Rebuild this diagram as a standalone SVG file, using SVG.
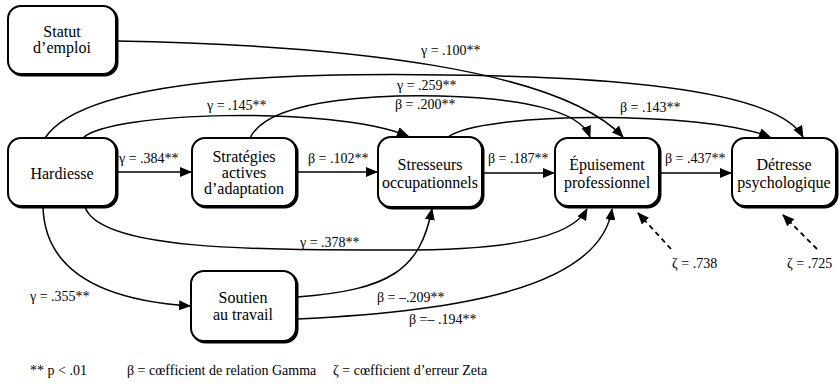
<svg xmlns="http://www.w3.org/2000/svg" width="840" height="386" viewBox="0 0 840 386">
<style>
.box{fill:#fff;stroke:#000;stroke-width:2}
.sh{fill:#000;stroke:#000;stroke-width:2}
.nt{font-family:"Liberation Serif","Times New Roman",serif;font-size:16px;text-anchor:middle;fill:#000}
.lb{font-family:"Liberation Serif","Times New Roman",serif;font-size:14px;fill:#000}
.c{fill:none;stroke:#000;stroke-width:1.5}
.d{fill:none;stroke:#000;stroke-width:1.8;stroke-dasharray:5,4}
</style>
<defs>
<marker id="ah" markerUnits="userSpaceOnUse" markerWidth="12" markerHeight="10" refX="11" refY="5" orient="auto">
<path d="M0,0 L12,5 L0,10 Z" fill="#000"/>
</marker>
</defs>
<rect width="840" height="386" fill="#fff"/>
<g id="connectors">
<path class="c" d="M116,41 C350,45 560,70 623,137" marker-end="url(#ah)"/>
<path class="c" d="M45,138 C90,70 350,72 500,76 C650,80 780,95 803,137" marker-end="url(#ah)"/>
<path class="c" d="M250,138 C270,95 400,95 440,96 C520,98 580,110 590,137" marker-end="url(#ah)"/>
<path class="c" d="M83,138 C110,112 330,105 408,136" marker-end="url(#ah)"/>
<path class="c" d="M448,137 C480,112 700,110 770,137" marker-end="url(#ah)"/>
<path class="c" d="M116,172 L191,172" marker-end="url(#ah)"/>
<path class="c" d="M296,172 L377,172" marker-end="url(#ah)"/>
<path class="c" d="M482,173 L554,173" marker-end="url(#ah)"/>
<path class="c" d="M659,173 L731,173" marker-end="url(#ah)"/>
<path class="c" d="M85,207 C100,250 250,250 400,250 C500,250 570,240 587,209" marker-end="url(#ah)"/>
<path class="c" d="M43,207 C45,270 100,300 190,306" marker-end="url(#ah)"/>
<path class="c" d="M297,297 C390,290 420,270 432,209" marker-end="url(#ah)"/>
<path class="c" d="M297,319 C450,312 600,290 612,209" marker-end="url(#ah)"/>
<path class="d" d="M671,249 L638,213" marker-end="url(#ah)"/>
<path class="d" d="M817,249 L783,215" marker-end="url(#ah)"/>
</g>
<g id="labels">
<text class="lb" x="421" y="55">γ = .100**</text>
<text class="lb" x="397" y="90">γ = .259**</text>
<text class="lb" x="395" y="109">β = .200**</text>
<text class="lb" x="207" y="110">γ = .145**</text>
<text class="lb" x="620" y="112">β = .143**</text>
<text class="lb" x="119" y="163">γ = .384**</text>
<text class="lb" x="308" y="163">β = .102**</text>
<text class="lb" x="488" y="163">β = .187**</text>
<text class="lb" x="665" y="163">β = .437**</text>
<text class="lb" x="300" y="247">γ = .378**</text>
<text class="lb" x="30" y="301">γ = .355**</text>
<text class="lb" x="377" y="302">β = –.209**</text>
<text class="lb" x="409" y="324">β =– .194**</text>
<text class="lb" x="672" y="268">ζ = .738</text>
<text class="lb" x="787" y="268">ζ = .725</text>
<text class="lb" x="30" y="375">** p &lt; .01</text>
<text class="lb" x="127" y="375">β = cœfficient de relation Gamma</text>
<text class="lb" x="333" y="375">ζ = cœfficient d’erreur Zeta</text>
</g>
<g id="statut">
<rect class="sh" x="9.5" y="7.5" width="108" height="68" rx="13"/>
<rect class="box" x="8" y="6" width="108" height="68" rx="13"/>
<text class="nt" x="62" y="37">Statut</text>
<text class="nt" x="62" y="53">d’emploi</text>
</g>
<g id="hardiesse">
<rect class="sh" x="9.5" y="139.5" width="108" height="68" rx="13"/>
<rect class="box" x="8" y="138" width="108" height="68" rx="13"/>
<text class="nt" x="62" y="179">Hardiesse</text>
</g>
<g id="strategies">
<rect class="sh" x="193.5" y="139.5" width="104" height="68" rx="13"/>
<rect class="box" x="192" y="138" width="104" height="68" rx="13"/>
<text class="nt" x="244" y="162">Stratégies</text>
<text class="nt" x="244" y="178">actives</text>
<text class="nt" x="244" y="194">d’adaptation</text>
</g>
<g id="stresseurs">
<rect class="sh" x="379.5" y="138.5" width="104" height="70" rx="13"/>
<rect class="box" x="378" y="137" width="104" height="70" rx="13"/>
<text class="nt" x="430" y="170">Stresseurs</text>
<text class="nt" x="430" y="188">occupationnels</text>
</g>
<g id="epuisement">
<rect class="sh" x="556.5" y="139.5" width="104" height="68" rx="13"/>
<rect class="box" x="555" y="138" width="104" height="68" rx="13"/>
<text class="nt" x="607" y="170">Épuisement</text>
<text class="nt" x="607" y="188">professionnel</text>
</g>
<g id="detresse">
<rect class="sh" x="733.5" y="139.5" width="104" height="68" rx="13"/>
<rect class="box" x="732" y="138" width="104" height="68" rx="13"/>
<text class="nt" x="784" y="170">Détresse</text>
<text class="nt" x="784" y="188">psychologique</text>
</g>
<g id="soutien">
<rect class="sh" x="192.5" y="272.5" width="105" height="70" rx="13"/>
<rect class="box" x="191" y="271" width="105" height="70" rx="13"/>
<text class="nt" x="243" y="303">Soutien</text>
<text class="nt" x="243" y="320">au travail</text>
</g>
</svg>
